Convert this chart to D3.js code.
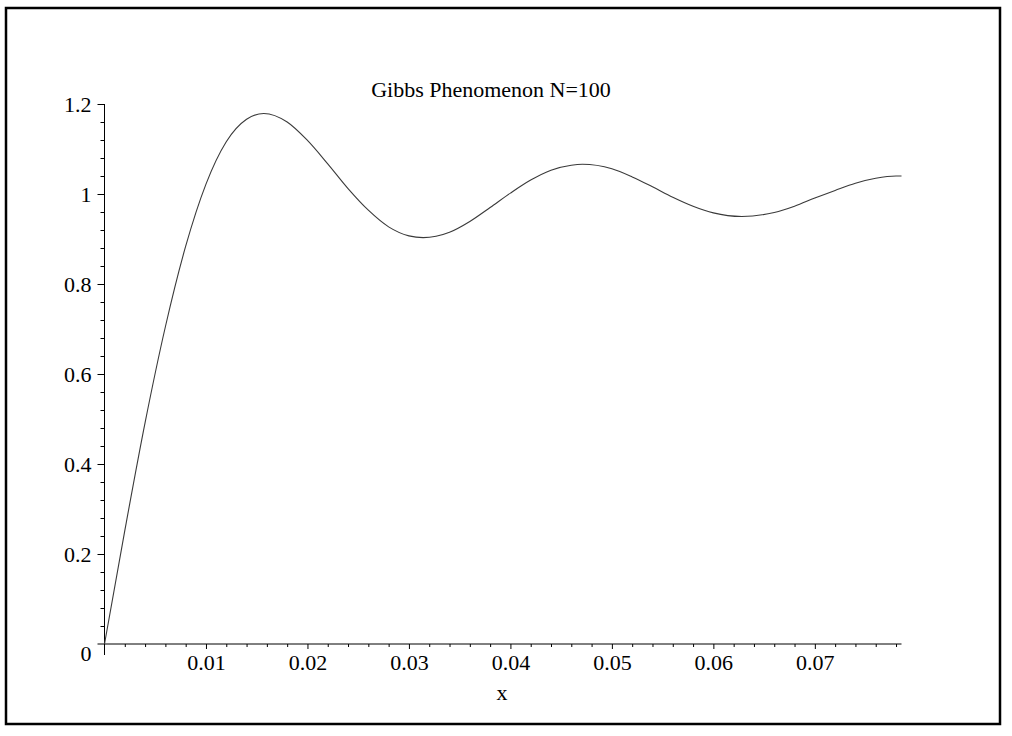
<!DOCTYPE html>
<html>
<head>
<meta charset="utf-8">
<script src="https://cdn.jsdelivr.net/npm/d3@7"></script>
<style>
  html, body { margin: 0; padding: 0; background: #fff; }
  svg { display: block; }
  text { font-family: "Liberation Serif", "Times New Roman", serif; fill: #000; }
</style>
</head>
<body>
<svg id="chart" width="1012" height="736"></svg>
<script>
// ---- data ----
const titleText = "Gibbs Phenomenon N=100";
const xLabel = "x";
const xValues = [0, 0.002, 0.004, 0.006, 0.008, 0.010, 0.012, 0.014, 0.0157, 0.018,
  0.020, 0.022, 0.024, 0.026, 0.028, 0.030, 0.0314, 0.034, 0.036, 0.038,
  0.040, 0.042, 0.044, 0.046, 0.0471, 0.050, 0.052, 0.054, 0.056, 0.058,
  0.060, 0.0628, 0.066, 0.068, 0.070, 0.072, 0.074, 0.076, 0.078, 0.07854];
const yValues = [0, 0.252, 0.492, 0.705, 0.884, 1.022, 1.116, 1.166, 1.179, 1.160,
  1.119, 1.067, 1.012, 0.964, 0.927, 0.907, 0.903, 0.915, 0.939, 0.970,
  1.002, 1.031, 1.053, 1.064, 1.066, 1.056, 1.038, 1.016, 0.993, 0.973,
  0.958, 0.950, 0.959, 0.973, 0.991, 1.008, 1.024, 1.035, 1.040, 1.040];
const xMajorTicks = [0.01, 0.02, 0.03, 0.04, 0.05, 0.06, 0.07];
const xTickLabels = ["0.01", "0.02", "0.03", "0.04", "0.05", "0.06", "0.07"];
const xMinorTicks = [0.002,0.004,0.006,0.008,0.012,0.014,0.016,0.018,0.022,0.024,0.026,0.028,
  0.032,0.034,0.036,0.038,0.042,0.044,0.046,0.048,0.052,0.054,0.056,0.058,
  0.062,0.064,0.066,0.068,0.072,0.074,0.076,0.078];
const yMajorTicks = [0.2, 0.4, 0.6, 0.8, 1, 1.2];
const yTickLabels = ["0.2", "0.4", "0.6", "0.8", "1", "1.2"];
const yMinorTicks = [0.04,0.08,0.12,0.16,0.24,0.28,0.32,0.36,0.44,0.48,0.52,0.56,
  0.64,0.68,0.72,0.76,0.84,0.88,0.92,0.96,1.04,1.08,1.12,1.16];
const xDomain = [0, 0.07854];
const yDomain = [0, 1.2];

// ---- layout ----
const svg = d3.select("#chart");
const plotL = 104.5, plotR = 901.5, plotT = 104, plotB = 644;
const fontSize = 22;
const x = d3.scaleLinear().domain(xDomain).range([plotL, plotR]);
const y = d3.scaleLinear().domain(yDomain).range([plotB, plotT]);

// frame
svg.append("rect").attr("x", 6).attr("y", 8).attr("width", 994).attr("height", 716)
  .attr("fill", "none").attr("stroke", "#000").attr("stroke-width", 2.5);

// axis lines (extend slightly past the origin like the reference)
svg.append("line").attr("x1", plotL - 7).attr("x2", plotR).attr("y1", plotB).attr("y2", plotB)
  .attr("stroke", "#000").attr("stroke-width", 1);
svg.append("line").attr("x1", plotL).attr("x2", plotL).attr("y1", plotT).attr("y2", plotB + 11)
  .attr("stroke", "#000").attr("stroke-width", 1);

// x ticks
const gx = svg.append("g").attr("transform", `translate(0,${plotB})`);
gx.call(d3.axisBottom(x).tickValues(xMinorTicks).tickSize(3).tickSizeOuter(0).tickFormat(""));
gx.append("g").call(d3.axisBottom(x).tickValues(xMajorTicks).tickSize(5).tickSizeOuter(0)
  .tickFormat((d, i) => xTickLabels[i]));
gx.selectAll(".domain").remove();
gx.selectAll("line").attr("stroke", "#000");
gx.selectAll("text").attr("font-size", fontSize).attr("font-family", "Liberation Serif")
  .attr("y", 10).attr("dy", "0.71em").attr("fill", "#000");

// y ticks
const gy = svg.append("g").attr("transform", `translate(${plotL},0)`);
gy.call(d3.axisLeft(y).tickValues(yMinorTicks).tickSize(4).tickSizeOuter(0).tickFormat(""));
gy.append("g").call(d3.axisLeft(y).tickValues(yMajorTicks).tickSize(7).tickSizeOuter(0)
  .tickFormat((d, i) => yTickLabels[i]));
gy.selectAll(".domain").remove();
gy.selectAll("line").attr("stroke", "#000");
gy.selectAll("text").attr("font-size", fontSize).attr("font-family", "Liberation Serif")
  .attr("x", -13).attr("fill", "#000");

// origin label "0"
svg.append("text").attr("x", plotL - 13).attr("y", y(0) + 9).attr("dy", "0.35em")
  .attr("text-anchor", "end").attr("font-size", fontSize).text("0");

// curve
const pts = xValues.map((v, i) => [v, yValues[i]]);
const line = d3.line().x(d => x(d[0])).y(d => y(d[1])).curve(d3.curveMonotoneX);
svg.append("path").datum(pts).attr("d", line)
  .attr("fill", "none").attr("stroke", "#3a3a3a").attr("stroke-width", 1.1);

// title and axis label
svg.append("text").attr("x", 491).attr("y", 97).attr("text-anchor", "middle")
  .attr("font-size", fontSize).text(titleText);
svg.append("text").attr("x", 502).attr("y", 700).attr("text-anchor", "middle")
  .attr("font-size", fontSize).text(xLabel);
</script>
</body>
</html>
